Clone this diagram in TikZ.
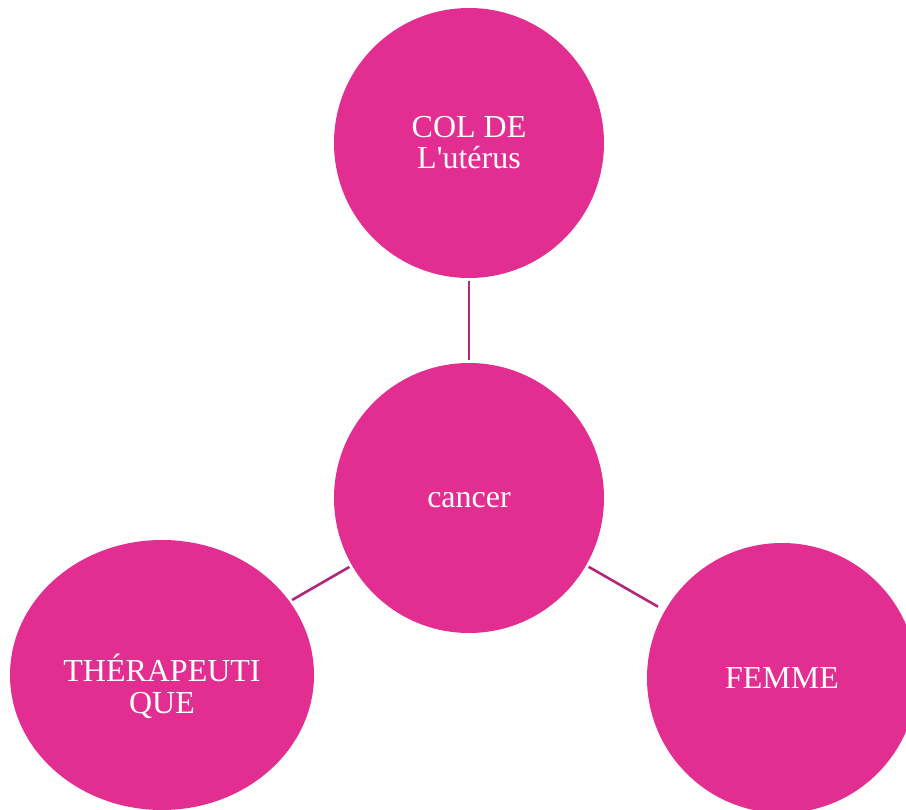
\documentclass[tikz,border=0pt]{standalone}
\usepackage{fontspec}
\setmainfont{Liberation Serif}
\usetikzlibrary{shapes.geometric}
\definecolor{bubble}{HTML}{E22E90}
\definecolor{link}{HTML}{B1287A}
\tikzset{
  bubble/.style={circle, fill=bubble, draw=none, minimum size=270pt, inner sep=0pt,
    text=white, align=center, font=\fontsize{32}{31}\selectfont, outer sep=3pt},
  oval/.style={bubble, ellipse, minimum width=304pt, minimum height=270pt,
    font=\fontsize{32}{32}\selectfont},
  link/.style={draw=link, line width=2.6pt}
}
\begin{document}
\begin{tikzpicture}[x=1pt, y=-1pt]
  \useasboundingbox (0,0) rectangle (906,810);
  \clip (0,0) rectangle (906,810);
  \node[bubble] (top) at (469,143) {COL DE\\L\textquotesingle utérus};
  \node[bubble] (mid) at (469,498) {\rule{0pt}{20pt}cancer};
  \node[oval] (left) at (162,675) {\rule{0pt}{51pt}THÉRAPEUTI\\QUE};
  \node[bubble] (right) at (782,678) {FEMME};
  \draw[link] (mid) -- (top);
  \draw[link] (mid) -- (left);
  \draw[link, shorten >=5pt] (mid) -- (right);
\end{tikzpicture}
\end{document}
